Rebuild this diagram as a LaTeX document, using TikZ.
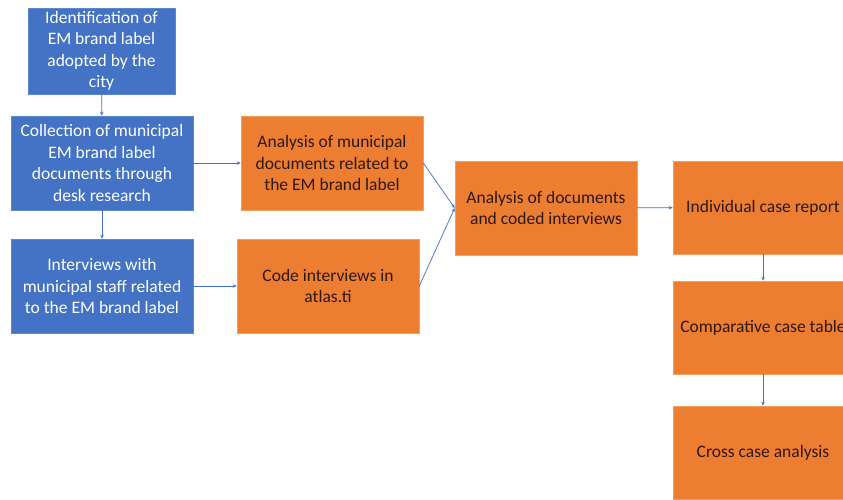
\documentclass[tikz,border=0pt]{standalone}
\usepackage{fontspec}
\setmainfont{Carlito}
\usetikzlibrary{arrows.meta}
\definecolor{boxblue}{HTML}{4472C4}
\definecolor{blueedge}{HTML}{5B86D0}
\definecolor{boxorange}{HTML}{ED7D31}
\definecolor{orangeedge}{HTML}{F2A05E}
\definecolor{darktext}{HTML}{2B1A10}
\begin{document}
\begin{tikzpicture}[x=1pt,y=-1pt,
  stage/.style={rectangle, minimum width=182pt, minimum height=94pt,
    inner sep=1pt, align=center, font=\fontsize{17.5}{21.5}\selectfont},
  bluestage/.style={stage, fill=boxblue, draw=blueedge, line width=0.6pt, text=white},
  orangestage/.style={stage, fill=boxorange, draw=orangeedge, line width=0.6pt, text=darktext},
  flow/.style={draw=boxblue, line width=0.7pt, -{Stealth[length=4pt,width=3.5pt]}}]
\useasboundingbox (0,0) rectangle (843,499);
\clip (0,0) rectangle (843,499);
\fill[white] (0,0) rectangle (843,499);

% data collection
\node[bluestage, minimum width=147pt, minimum height=86pt] (ident) at (101.5,51)
  {Identification of\\EM brand label\\adopted by the\\city};
\node[bluestage] (collect) at (102,163)
  {Collection of municipal\\EM brand label\\documents through\\desk research};
\node[bluestage] (interv) at (102,286)
  {Interviews with\\municipal staff related\\to the EM brand label};

% processing
\node[orangestage] (docan) at (332,163)
  {Analysis of municipal\\documents related to\\the EM brand label};
\node[orangestage] (code) at (328,286)
  {Code interviews in\\atlas.ti};
\node[orangestage] (joint) at (546,208)
  {Analysis of documents\\and coded interviews};

% reporting
\node[orangestage, minimum width=180pt, minimum height=93pt] (report) at (763,207.5)
  {Individual case report};
\node[orangestage, minimum width=180pt, minimum height=93pt] (table) at (763,327.5)
  {Comparative case table};
\node[orangestage, minimum width=180pt, minimum height=93pt] (cross) at (763,452.5)
  {Cross case analysis};

% connectors
\draw[flow] (ident) -- (collect);
\draw[flow] (collect) -- (interv);
\draw[flow] (collect) -- (docan);
\draw[flow] (interv) -- (code);
\draw[flow] (docan.east) -- (joint.west);
\draw[flow] (code.east) -- (joint.west);
\draw[flow] (joint) -- (report);
\draw[flow] (report) -- (table);
\draw[flow] (table) -- (cross);
\end{tikzpicture}
\end{document}
